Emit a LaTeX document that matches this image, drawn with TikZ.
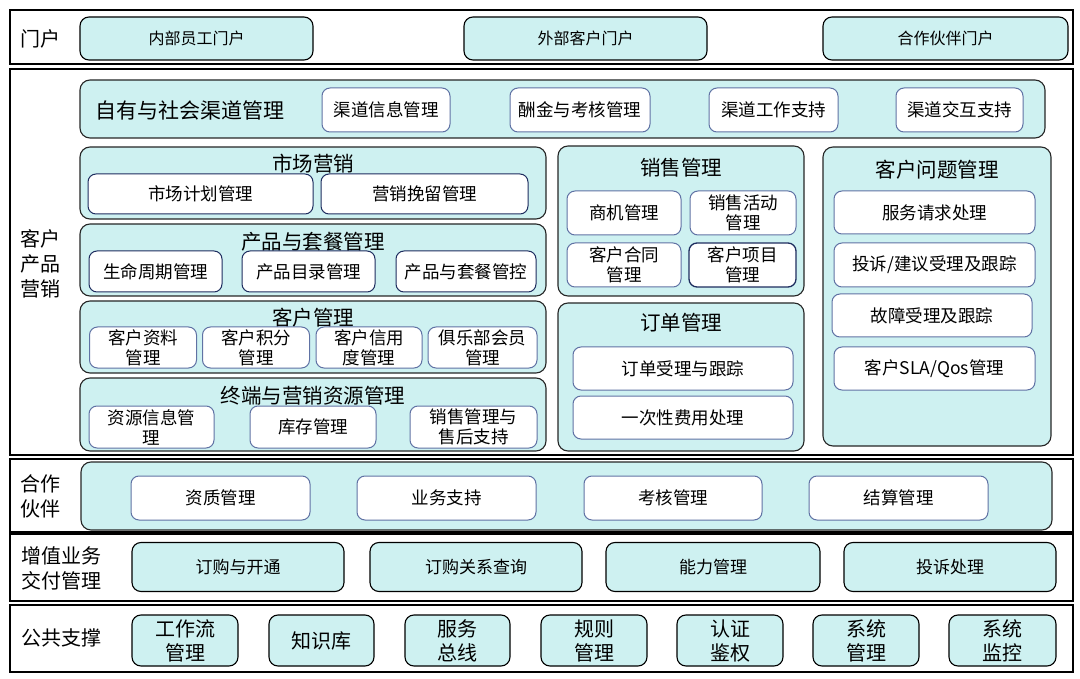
\documentclass[tikz,border=0pt]{standalone}
\usepackage{fontspec}
\setmainfont{Noto Sans CJK SC}
\usepackage{xcolor}
\usepackage{tikz}
\usetikzlibrary{positioning}

\definecolor{cyanbg}{RGB}{206,241,241}
\definecolor{subedge}{RGB}{96,114,164}
\definecolor{navyedge}{RGB}{30,45,95}

\begin{document}
\begin{tikzpicture}[
			x=1pt, y=-1pt,
			every node/.style={inner sep=0pt, align=center},
			rowframe/.style={
				rectangle, draw=black, line width=1.5pt
			},
			rowlabel/.style={
				font=\fontsize{20}{25}\selectfont
			},
			topbox/.style={
				rectangle, draw=black, rounded corners=9pt, line width=1.1pt,
				fill=cyanbg, font=\fontsize{16}{19}\selectfont
			},
			group/.style={
				rectangle, draw=black!85, rounded corners=10pt, line width=1.1pt,
				fill=cyanbg
			},
			grouptitle/.style={
				font=\fontsize{20.5}{24}\selectfont
			},
			subbox/.style={
				rectangle, draw=subedge, rounded corners=8pt, line width=1pt,
				fill=white, font=\fontsize{17.5}{20}\selectfont
			},
			cbox/.style={
				rectangle, draw=black, rounded corners=9pt, line width=1.1pt,
				fill=cyanbg, font=\fontsize{17}{20}\selectfont
			}
			]
			
			\useasboundingbox (0,0) rectangle (1080,679);
			
			\node[rowframe, minimum width=1063pt, minimum height=54pt] (portalrow) at (541.5,37) {};
			\node[rowlabel] (portallbl) at (40,39) {门户};
			\node[topbox, minimum width=233pt, minimum height=43pt] (staff) at (196.5,38.5) {内部员工门户};
			\node[topbox, minimum width=243pt, minimum height=43pt] (client) at (585.5,38.5) {外部客户门户};
			\node[topbox, minimum width=245pt, minimum height=43pt] (partnerportal) at (945.5,38.5) {合作伙伴门户};
			
			\node[rowframe, minimum width=1063pt, minimum height=386pt] (marketrow) at (541.5,262) {};
			\node[rowlabel] (marketlbl) at (40,264) {客户\\产品\\营销};
			
			\node[group, minimum width=965pt, minimum height=58pt] (channel) at (562.5,109) {};
			\node[font=\fontsize{21}{24}\selectfont, anchor=west] (channeltitle) at (95,110) {自有与社会渠道管理};
			\node[subbox, minimum width=128pt, minimum height=44pt] (chinfo) at (386,110) {渠道信息管理};
			\node[subbox, minimum width=140pt, minimum height=44pt] (chpay) at (580,110) {酬金与考核管理};
			\node[subbox, minimum width=129pt, minimum height=44pt] (chwork) at (773.5,110) {渠道工作支持};
			\node[subbox, minimum width=127pt, minimum height=44pt] (chlink) at (959.5,110) {渠道交互支持};
			
			\node[group, minimum width=466pt, minimum height=72pt] (campaign) at (313,183) {};
			\node[grouptitle] (campaigntitle) at (313,164) {市场营销};
			\node[subbox, draw=navyedge, minimum width=225pt, minimum height=40pt] (plan) at (200.5,194) {市场计划管理};
			\node[subbox, draw=navyedge, minimum width=207pt, minimum height=40pt] (retain) at (424.5,194) {营销挽留管理};
			
			\node[group, minimum width=466pt, minimum height=72pt] (product) at (313,260) {};
			\node[grouptitle] (producttitle) at (313,242) {产品与套餐管理};
			\node[subbox, draw=navyedge, minimum width=133pt, minimum height=41pt] (lifecycle) at (155.5,271.5) {生命周期管理};
			\node[subbox, draw=navyedge, minimum width=133pt, minimum height=41pt] (catalog) at (308.5,271.5) {产品目录管理};
			\node[subbox, draw=navyedge, minimum width=140pt, minimum height=41pt] (bundle) at (466,271.5) {产品与套餐管控};
			
			\node[group, minimum width=466pt, minimum height=72pt] (customer) at (313,337) {};
			\node[grouptitle] (customertitle) at (313,318) {客户管理};
			\node[subbox, minimum width=107pt, minimum height=41pt] (profile) at (143,347.5) {客户资料\\管理};
			\node[subbox, minimum width=107pt, minimum height=41pt] (points) at (256,347.5) {客户积分\\管理};
			\node[subbox, minimum width=106pt, minimum height=41pt] (credit) at (369,347.5) {客户信用\\度管理};
			\node[subbox, minimum width=109pt, minimum height=41pt] (club) at (482.5,347.5) {俱乐部会员\\管理};
			
			\node[group, minimum width=466pt, minimum height=73pt] (terminal) at (313,414.5) {};
			\node[grouptitle] (terminaltitle) at (313,396) {终端与营销资源管理};
			\node[subbox, minimum width=125pt, minimum height=42pt] (resinfo) at (151.5,427) {资源信息管\\理};
			\node[subbox, minimum width=126pt, minimum height=42pt] (stock) at (313,427) {库存管理};
			\node[subbox, minimum width=127pt, minimum height=42pt] (aftersale) at (473.5,427) {销售管理与\\售后支持};
			
			\node[group, minimum width=246pt, minimum height=150pt] (sales) at (681,221) {};
			\node[grouptitle] (salestitle) at (681,168) {销售管理};
			\node[subbox, minimum width=114pt, minimum height=44pt] (lead) at (624,213) {商机管理};
			\node[subbox, minimum width=106pt, minimum height=44pt] (activity) at (743,213) {销售活动\\管理};
			\node[subbox, minimum width=114pt, minimum height=44pt] (contract) at (624,265) {客户合同\\管理};
			\node[subbox, draw=navyedge, line width=1.3pt, minimum width=107pt, minimum height=44pt] (project) at (742.5,265) {客户项目\\管理};
			
			\node[group, minimum width=246pt, minimum height=148pt] (order) at (681,377) {};
			\node[grouptitle] (ordertitle) at (681,323) {订单管理};
			\node[subbox, minimum width=220pt, minimum height=43pt] (accept) at (683,368.5) {订单受理与跟踪};
			\node[subbox, minimum width=220pt, minimum height=43pt] (onefee) at (683,417.5) {一次性费用处理};
			
			\node[group, minimum width=228pt, minimum height=299pt] (issue) at (937,296.5) {};
			\node[grouptitle] (issuetitle) at (937,170) {客户问题管理};
			\node[subbox, minimum width=201pt, minimum height=43pt] (request) at (934.5,212.5) {服务请求处理};
			\node[subbox, minimum width=201pt, minimum height=44pt] (complain) at (934.5,265) {投诉/建议受理及跟踪};
			\node[subbox, minimum width=200pt, minimum height=43pt] (fault) at (932,315.5) {故障受理及跟踪};
			\node[subbox, minimum width=201pt, minimum height=43pt] (sla) at (934.5,368.5) {客户SLA/Qos管理};
			
			\node[rowframe, minimum width=1063pt, minimum height=73pt] (partnerrow) at (541.5,495.5) {};
			\node[rowlabel] (partnerlbl) at (40,496) {合作\\伙伴};
			\node[group, minimum width=971pt, minimum height=68pt] (partnerbar) at (566.5,496) {};
			\node[subbox, minimum width=179pt, minimum height=44pt] (qualify) at (220.5,498) {资质管理};
			\node[subbox, minimum width=179pt, minimum height=44pt] (support) at (446.5,498) {业务支持};
			\node[subbox, minimum width=178pt, minimum height=44pt] (assess) at (673,498) {考核管理};
			\node[subbox, minimum width=179pt, minimum height=44pt] (settle) at (898.5,498) {结算管理};
			
			\node[rowframe, minimum width=1063pt, minimum height=67pt] (vasrow) at (541.5,567.5) {};
			\node[rowlabel] (vaslbl) at (61,568) {增值业务\\交付管理};
			\node[cbox, minimum width=212pt, minimum height=49pt] (subscribe) at (238,567) {订购与开通};
			\node[cbox, minimum width=212pt, minimum height=49pt] (query) at (476,567) {订购关系查询};
			\node[cbox, minimum width=214pt, minimum height=49pt] (ability) at (713,567) {能力管理};
			\node[cbox, minimum width=212pt, minimum height=49pt] (vascomplain) at (950,567) {投诉处理};
			
			\node[rowframe, minimum width=1063pt, minimum height=67pt] (commonrow) at (541.5,638.5) {};
			\node[rowlabel] (commonlbl) at (61,638) {公共支撑};
			\node[cbox, font=\fontsize{20}{24}\selectfont, minimum width=106pt, minimum height=51pt] (workflow) at (185,640.5) {工作流\\管理};
			\node[cbox, font=\fontsize{20}{24}\selectfont, minimum width=105pt, minimum height=51pt] (knowledge) at (321.5,640.5) {知识库};
			\node[cbox, font=\fontsize{20}{24}\selectfont, minimum width=105pt, minimum height=51pt] (bus) at (457.5,640.5) {服务\\总线};
			\node[cbox, font=\fontsize{20}{24}\selectfont, minimum width=106pt, minimum height=51pt] (rules) at (594,640.5) {规则\\管理};
			\node[cbox, font=\fontsize{20}{24}\selectfont, minimum width=106pt, minimum height=51pt] (auth) at (730,640.5) {认证\\鉴权};
			\node[cbox, font=\fontsize{20}{24}\selectfont, minimum width=106pt, minimum height=51pt] (sysadmin) at (866,640.5) {系统\\管理};
			\node[cbox, font=\fontsize{20}{24}\selectfont, minimum width=107pt, minimum height=51pt] (monitor) at (1002.5,640.5) {系统\\监控};
			
		\end{tikzpicture}
\end{document}
